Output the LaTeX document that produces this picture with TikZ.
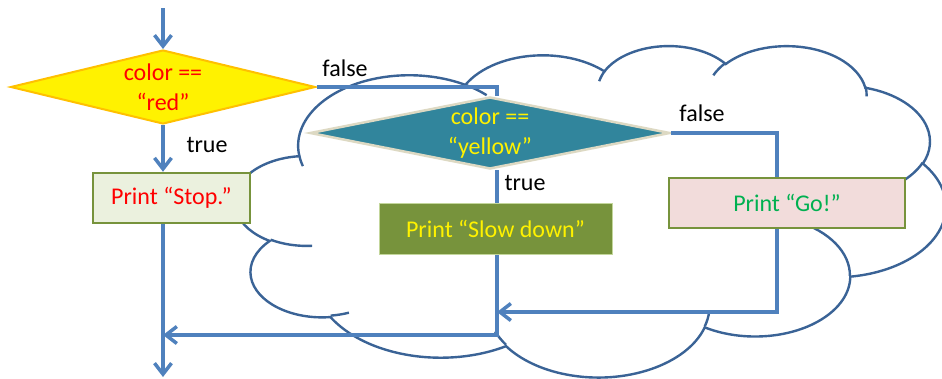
\documentclass[tikz,border=0pt]{standalone}
\usepackage{fontspec}
\setmainfont{Carlito}
\usetikzlibrary{shapes.geometric,arrows.meta}

\definecolor{flowblue}{HTML}{4F81BD}
\definecolor{cloudblue}{HTML}{3A6396}
\definecolor{olive}{HTML}{77933C}
\definecolor{oliveedge}{HTML}{C3D69B}
\definecolor{stopfill}{HTML}{EBF1DE}
\definecolor{gofill}{HTML}{F2DCDB}
\definecolor{teal}{HTML}{31859C}
\definecolor{tealedge}{HTML}{DDD9C3}
\definecolor{goldedge}{HTML}{FFC000}
\definecolor{gogreen}{HTML}{00B050}

% one elliptical arc of the cloud outline; angles are given as visual
% angles on the ellipse and turned into parametric ones here
\newcommand\cloudarc[4]{arc[x radius=#1, y radius=#2,
  start angle={atan2((#1)*sin(#3),(#2)*cos(#3))},
  delta angle={mod(atan2((#1)*sin((#3)+(#4)),(#2)*cos((#3)+(#4)))-atan2((#1)*sin(#3),(#2)*cos(#3))+720,360)}]}

\tikzset{
  txt/.style={font=\fontsize{24}{30}\selectfont},
  flow/.style={draw=flowblue, line width=3.5pt},
  arrowflow/.style={flow, -{Straight Barb[length=11pt,width=17pt]}},
  cloudline/.style={draw=cloudblue, line width=2.4pt},
  decision/.style={diamond, inner sep=0pt, line width=2.5pt},
  box/.style={rectangle, inner sep=0pt, line width=2.5pt, txt},
}

\begin{document}
\begin{tikzpicture}[x=1pt, y=-1pt]
\useasboundingbox (0,0) rectangle (942,378);

% the cloud behind the inner decision
\begin{scope}[shift={(235,45)}, x=16.45pt, y=-7.67pt]
  \draw[cloudline, fill=white] (3.9,14.37)
    \cloudarc{6.753}{9.190}{-190.4875}{123.7805}
    \cloudarc{5.333}{7.267}{-144.1024}{89.9452}
    \cloudarc{4.365}{5.945}{-145.8079}{99.7230}
    \cloudarc{4.857}{6.595}{-130.9861}{117.2417}
    \cloudarc{5.333}{7.273}{-78.7089}{109.0269}
    \cloudarc{6.775}{9.220}{-46.2673}{130.2690}
    \cloudarc{5.785}{7.867}{0.6250}{114.0333}
    \cloudarc{6.752}{9.215}{22.4516}{115.1726}
    \cloudarc{7.720}{10.543}{66.2426}{75.7110}
    \cloudarc{4.360}{5.918}{-274.9421}{146.7356}
    \cloudarc{4.345}{5.945}{-246.8285}{152.5189}
    -- cycle;
  \draw[cloudline]
    (4.693,26.177) \cloudarc{4.345}{5.945}{86.742}{26.4295}
    (6.928,34.899) \cloudarc{4.360}{5.918}{73.6105}{11.4475}
    (16.478,39.090) \cloudarc{6.752}{9.215}{137.6242}{14.0811}
    (28.827,34.751) \cloudarc{6.752}{9.215}{6.4533}{15.9984}
    (34.129,22.954) \cloudarc{5.785}{7.867}{-70.2924}{70.9174}
    (41.798,15.354) \cloudarc{5.333}{7.273}{30.3180}{27.7515}
    (38.324,5.426) \cloudarc{4.857}{6.595}{-13.7443}{14.8589}
    (29.078,3.952) \cloudarc{4.857}{6.595}{-149.1815}{18.1954}
    (22.141,4.720) \cloudarc{4.365}{5.945}{-163.4943}{17.6864}
    (14.000,5.192) \cloudarc{6.753}{9.190}{-66.7070}{12.3194}
    (4.127,15.789) \cloudarc{6.753}{9.190}{157.6544}{11.8582};
\end{scope}

% decisions
\node[decision, fill=yellow, draw=goldedge, line width=2pt, minimum width=305pt, minimum height=74pt,
      label={[txt, text=red, align=center]center:color ==\\“red”}]
  (red) at (163,87) {};
\node[decision, fill=teal, draw=tealedge, minimum width=360pt, minimum height=72pt,
      label={[txt, text=yellow, align=center]center:color ==\\“yellow”}]
  (yel) at (490,133) {};

% actions
\node[box, fill=stopfill, draw=olive, text=red, minimum width=157pt, minimum height=50pt]
  (stop) at (171.5,198) {Print “Stop.”};
\node[box, fill=olive, draw=oliveedge, line width=1pt, text=yellow,
      minimum width=233pt, minimum height=51pt]
  (slow) at (495.5,229) {Print “Slow down”};
\node[box, fill=gofill, draw=olive, text=gogreen, minimum width=236pt, minimum height=50pt]
  (go) at (787,203) {Print “Go!”};

% bends and loose ends of the connectors
\coordinate (start) at (163,8);
\coordinate (finish) at (163,377);
\coordinate (j1) at (497,87);
\coordinate (j2) at (497,335);
\coordinate (j3) at (777,133);
\coordinate (j4) at (777,312);

% connectors
\draw[arrowflow] (start) -- (red.north);
\draw[arrowflow] (red.south) -- (red.south |- stop.north);
\draw[arrowflow] (red.south |- stop.south) -- (finish);
\draw[flow] (red.east) -- (j1) -- (j1 |- yel.north);
\draw[flow] (j1 |- yel.south) -- (j1 |- slow.north);
\draw[arrowflow] (j1 |- slow.south) -- (j2) -- (j2 -| start);
\draw[flow] (yel.east) -- (j3) -- (j3 |- go.north);
\draw[arrowflow] (j3 |- go.south) -- (j4) -- (j4 -| j1);

% branch labels
\node[txt] (f1) at (345,68) {false};
\node[txt] (t1) at (207,145) {true};
\node[txt] (t2) at (525,183) {true};
\node[txt] (f2) at (702,113) {false};
\end{tikzpicture}
\end{document}
